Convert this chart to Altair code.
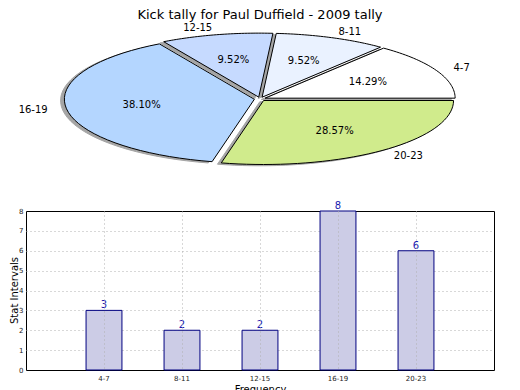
import altair as alt
import pandas as pd

# ---- data ----
categories = ["4-7", "8-11", "12-15", "16-19", "20-23"]
counts = [3, 2, 2, 8, 6]
slice_colors = ["#ffffff", "#eaf2ff", "#c6daff", "#b4d6ff", "#d0eb8c"]
y_ticks = [0, 1, 2, 3, 4, 5, 6, 7, 8]
title_text = "Kick tally for Paul Duffield - 2009 tally"

df = pd.DataFrame({"cat": categories, "count": counts, "order": list(range(len(categories)))})

FONT = "DejaVu Sans"
PW, PH = 468, 188
CX, CY, RX, RY = 234, 91, 190, 64
EXPLODE = 0.03
N = 40
SHX, SHY = -0.02 * RX, 0.02 * RY

xs = alt.Scale(domain=[0, PW], nice=False, zero=False)
ys = alt.Scale(domain=[0, PH], nice=False, zero=False, reverse=True)

base = (
    alt.Chart(df)
    .transform_joinaggregate(total="sum(count)")
    .transform_window(cum="sum(count)", sort=[alt.SortField("order")])
    .transform_calculate(a0="2*PI*(datum.cum - datum.count)/datum.total")
    .transform_calculate(a1="2*PI*datum.cum/datum.total")
    .transform_calculate(mid="(datum.a0 + datum.a1)/2")
    .transform_calculate(ox=f"{CX} + {EXPLODE * RX}*cos(datum.mid)")
    .transform_calculate(oy=f"{CY} - {EXPLODE * RY}*sin(datum.mid)")
)

poly = (
    base.transform_calculate(idx=f"sequence(0, {N + 3})")
    .transform_flatten(["idx"])
    .transform_calculate(arc=f"datum.idx > 0 && datum.idx < {N + 2}")
    .transform_calculate(a=f"datum.a0 + (datum.a1 - datum.a0)*(datum.idx - 1)/{N}")
    .transform_calculate(px=f"datum.ox + (datum.arc ? {RX}*cos(datum.a) : 0)")
    .transform_calculate(py=f"datum.oy - (datum.arc ? {RY}*sin(datum.a) : 0)")
    .transform_calculate(sx=f"datum.px + {SHX}", sy=f"datum.py + {SHY}")
)

shadow = poly.mark_line(fill="#4d4d4d", stroke="#4d4d4d", strokeWidth=1, opacity=0.5).encode(
    x=alt.X("sx:Q", scale=xs, axis=None),
    y=alt.Y("sy:Q", scale=ys, axis=None),
    order="idx:Q",
    detail="cat:N",
)

slices = poly.mark_line(stroke="black", strokeWidth=1, strokeJoin="miter").encode(
    x=alt.X("px:Q", scale=xs, axis=None),
    y=alt.Y("py:Q", scale=ys, axis=None),
    fill=alt.Fill("cat:N", scale=alt.Scale(domain=categories, range=slice_colors), legend=None),
    order="idx:Q",
    detail="cat:N",
)

pct = (
    base.transform_calculate(tx=f"datum.ox + {0.6 * RX}*cos(datum.mid)")
    .transform_calculate(ty=f"datum.oy - {0.6 * RY}*sin(datum.mid)")
    .transform_calculate(lbl="format(100*datum.count/datum.total, '.2f') + '%'")
    .mark_text(font=FONT, fontSize=10, color="black", baseline="middle", align="center")
    .encode(x=alt.X("tx:Q", scale=xs, axis=None), y=alt.Y("ty:Q", scale=ys, axis=None), text="lbl:N")
)

lab = (
    base.transform_calculate(tx=f"datum.ox + {1.1 * RX}*cos(datum.mid)")
    .transform_calculate(ty=f"datum.oy - {1.1 * RY}*sin(datum.mid)")
    .transform_calculate(right="cos(datum.mid) >= 0")
)
lab_r = lab.transform_filter("datum.right").mark_text(
    font=FONT, fontSize=10, color="black", baseline="middle", align="left"
).encode(x=alt.X("tx:Q", scale=xs, axis=None), y=alt.Y("ty:Q", scale=ys, axis=None), text="cat:N")
lab_l = lab.transform_filter("!datum.right").mark_text(
    font=FONT, fontSize=10, color="black", baseline="middle", align="right"
).encode(x=alt.X("tx:Q", scale=xs, axis=None), y=alt.Y("ty:Q", scale=ys, axis=None), text="cat:N")

title = (
    alt.Chart(pd.DataFrame({"t": [title_text]}))
    .mark_text(font=FONT, fontSize=13, color="black", baseline="top", align="center")
    .encode(x=alt.value(CX), y=alt.value(1), text="t:N")
)

pie = alt.layer(shadow, slices, pct, lab_r, lab_l, title).properties(
    width=PW, height=PH, view={"stroke": "transparent", "strokeWidth": 0}
)

# ---- bar chart ----
bar_base = alt.Chart(df).encode(
    x=alt.X(
        "cat:N",
        sort=categories,
        scale=alt.Scale(paddingInner=0.54, paddingOuter=0.77),
        axis=alt.Axis(
            title="Frequency",
            labelAngle=0,
            labelFont=FONT,
            labelFontSize=7,
            labelColor="#222222",
            labelPadding=4,
            ticks=False,
            domain=False,
            grid=True,
            gridColor="#b0b0b0",
            gridDash=[1, 3],
            gridWidth=1,
            bandPosition=0.5,
            titleFont=FONT,
            titleFontSize=10,
            titleFontWeight="normal",
            titleColor="black",
            titlePadding=3,
            zindex=1,
        ),
    ),
    y=alt.Y(
        "count:Q",
        scale=alt.Scale(domain=[0, 8], nice=False),
        axis=alt.Axis(
            values=y_ticks,
            title="Stat Intervals",
            labelFont=FONT,
            labelFontSize=7,
            labelColor="#222222",
            labelPadding=3,
            ticks=False,
            domain=False,
            grid=True,
            gridColor="#b0b0b0",
            gridDash=[1, 3],
            gridWidth=1,
            gridOpacity=alt.condition("datum.value == 0 || datum.value == 8", alt.value(0), alt.value(1)),
            titleFont=FONT,
            titleFontSize=10,
            titleFontWeight="normal",
            titleColor="black",
            titleBaseline="alphabetic",
            titleX=-9,
            titleY=79,
        ),
    ),
)

bars = bar_base.mark_bar(fill="#ccccE6", stroke="#000080", strokeWidth=1)
values = bar_base.mark_text(
    font=FONT, fontSize=10, color="#1a1ab0", baseline="bottom", align="center"
).encode(text="count:Q")

bar_chart = alt.layer(bars, values).properties(
    width=468, height=159, view={"stroke": "black", "strokeWidth": 1}
)

chart = alt.vconcat(pie, bar_chart, spacing=4).properties(padding=0)

chart.save("out.html", embed_options={"renderer": "svg", "actions": False})
